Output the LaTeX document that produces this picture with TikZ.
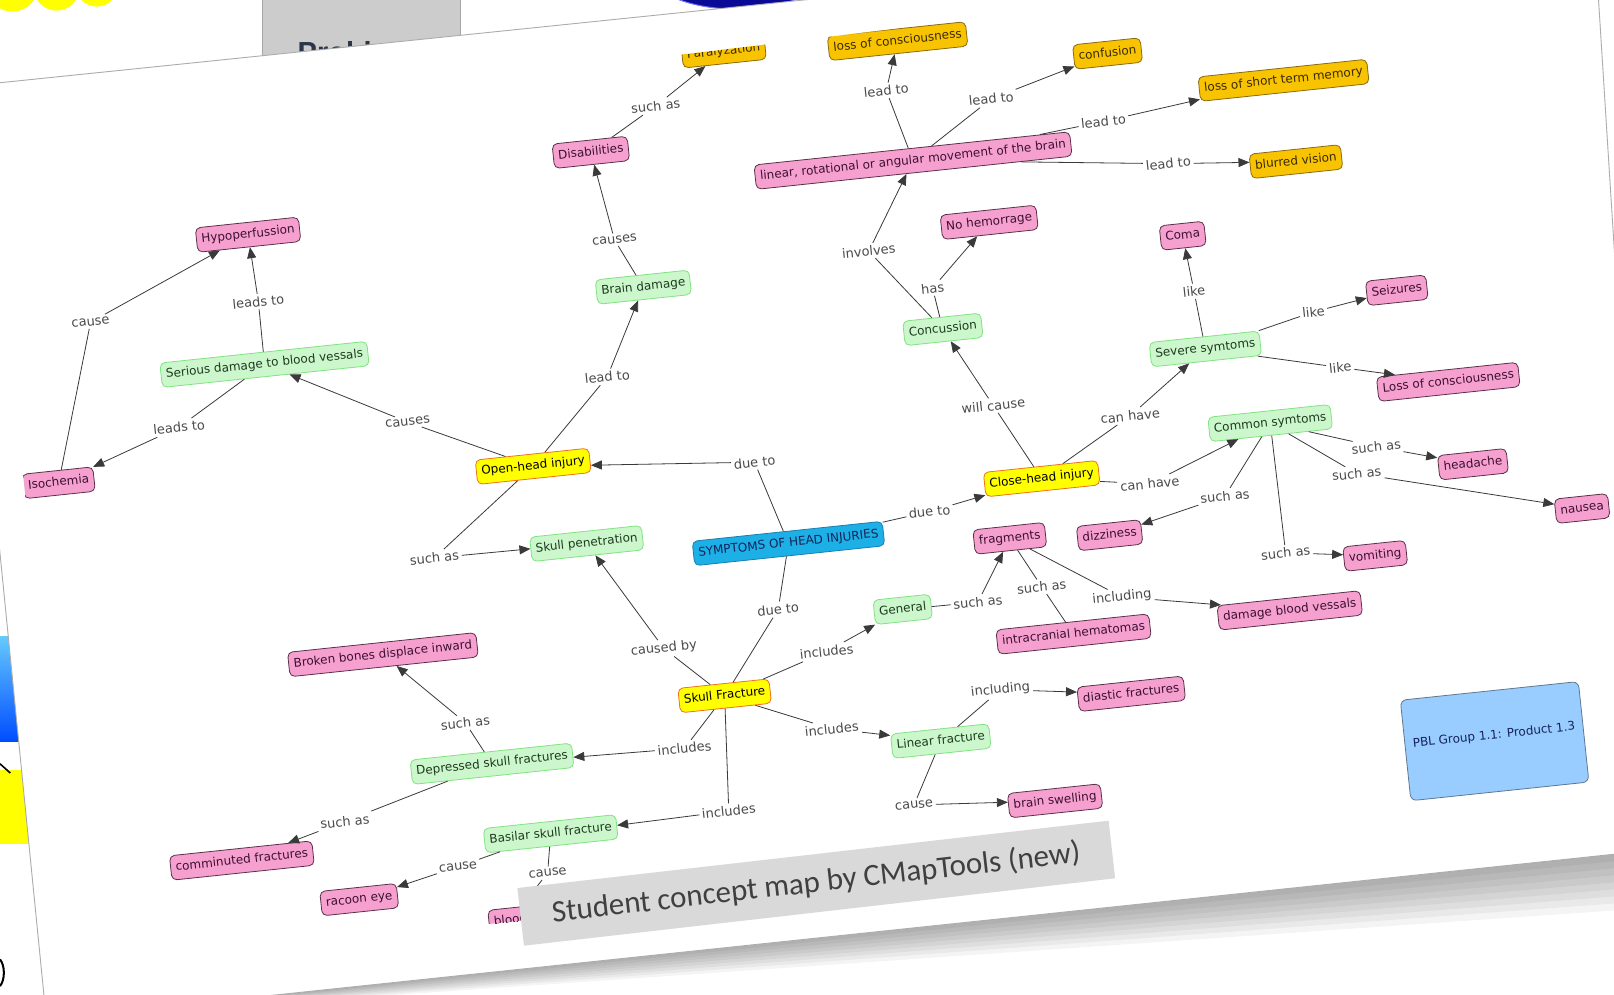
\documentclass[tikz,border=0pt]{standalone}
\usepackage{fontspec}
\setmainfont{DejaVu Sans}
\newfontfamily\capfont{Carlito}
\newfontfamily\tabfont{Liberation Sans}
\usetikzlibrary{arrows.meta}
\definecolor{pinkfill}{HTML}{F6A0D0}
\definecolor{pinkdraw}{HTML}{5A3048}
\definecolor{pinktext}{HTML}{3C1030}
\definecolor{greenfill}{HTML}{CCF6CC}
\definecolor{greendraw}{HTML}{80E480}
\definecolor{greentext}{HTML}{1E3A1E}
\definecolor{yellowfill}{HTML}{FFFF00}
\definecolor{yellowdraw}{HTML}{F07020}
\definecolor{goldfill}{HTML}{F8C300}
\definecolor{golddraw}{HTML}{8A6A10}
\definecolor{goldtext}{HTML}{3A2A00}
\definecolor{bluefill}{HTML}{1CB0E6}
\definecolor{bluedraw}{HTML}{1A7FB0}
\definecolor{bluetext}{HTML}{14245A}
\definecolor{pblfill}{HTML}{99CCFF}
\definecolor{pbldraw}{HTML}{5E7890}
\definecolor{labtext}{HTML}{4A4A4A}
\definecolor{linec}{HTML}{3A3A3A}
\definecolor{tabgray}{HTML}{CCCCCC}
\definecolor{tabtext}{HTML}{2B3648}
\definecolor{topblue}{HTML}{0A0A96}
\definecolor{capfill}{HTML}{D9D9D9}
\definecolor{captext}{HTML}{404040}
\tikzset{
 cbase/.style={rectangle, rounded corners=5pt, inner xsep=5pt, inner ysep=6pt, text height=9.5pt, text depth=3pt, rotate=6, font=\fontsize{12}{14}\selectfont, line width=0.8pt},
 pinkc/.style={cbase, fill=pinkfill, draw=pinkdraw, text=pinktext},
 greenc/.style={cbase, fill=greenfill, draw=greendraw, text=greentext},
 yellowc/.style={cbase, fill=yellowfill, draw=yellowdraw, text=black},
 goldc/.style={cbase, fill=goldfill, draw=golddraw, text=goldtext},
 bluec/.style={cbase, fill=bluefill, draw=bluedraw, text=bluetext},
 pblc/.style={rectangle, rounded corners=6pt, rotate=6, fill=pblfill, draw=pbldraw, line width=0.8pt, minimum width=179pt, minimum height=101pt, text=bluetext, font=\fontsize{12}{14}\selectfont},
 lab/.style={rotate=6, inner sep=2.5pt, text=labtext, font=\fontsize{13}{15}\selectfont},
 ln/.style={draw=linec, line width=0.8pt},
 ar/.style={ln, -{Triangle[length=11pt,width=9pt]}},
 capbox/.style={rectangle, rotate=6.5, fill=capfill, minimum width=595pt, minimum height=58pt, text=captext, font=\capfont\fontsize{31}{36}\selectfont}
}
\begin{document}
\begin{tikzpicture}[x=1.0293pt,y=-1.0293pt]
\useasboundingbox (0,0) rectangle (1568,966);
\fill[white] (0,0) rectangle (1568,966);
% background slide elements
\fill[yellowfill] (12,-14) circle[radius=26pt];
\fill[yellowfill] (55,-12) circle[radius=23pt];
\fill[yellowfill] (94,-14) circle[radius=21pt];
\fill[tabgray, draw=gray!70] (255,-5) rectangle (447,70);
\node[anchor=base west, inner sep=0pt, text=tabtext, font=\tabfont\bfseries\fontsize{29}{32}\selectfont] (tabtxt) at (289,61) {Problem};
\fill[topblue, draw=blue!55, line width=1pt] (716,-30) ellipse[x radius=90pt, y radius=40pt];
\shade[top color=blue!35!cyan!60, bottom color=blue!70!cyan] (-5,618) rectangle (25,720);
\fill[yellowfill] (-5,748) rectangle (30,820);
\draw[black, line width=1.6pt] (0,742) -- (10,751);
\draw[black, line width=2pt] (0,932) .. controls (5,938) and (5,952) .. (0,958);
% sheet shadow
\foreach \k in {1,...,8}{
  \fill[black, opacity=0.045] (45,990) -- (1605,826) -- (1605,826+7*\k) -- cycle;
}
\foreach \k in {1,...,4}{
  \fill[black, opacity=0.04] (-45,85) -- (45,990) -- (45+2*\k,990) -- (-45+3*\k,85) -- cycle;
}
% sheet
\fill[white, draw=gray!65, line width=0.9pt] (-45,85) -- (1548,-79) -- (1605,826) -- (45,990) -- cycle;
% concept map
\begin{scope}
\clip (-10,134) -- (1600,-60) -- (1600,780) -- (70,940) -- cycle;
\node[goldc] (par) at (703,50) {Paralyzation};
\node[goldc] (loc) at (872,40) {loss of consciousness};
\node[goldc] (conf) at (1076,52) {confusion};
\node[goldc] (stm) at (1247,78) {loss of short term memory};
\node[goldc] (blur) at (1259,157) {blurred vision};
\node[pinkc] (lin) at (887,156) {linear, rotational or angular movement of the brain};
\node[pinkc] (dis) at (574,148) {Disabilities};
\node[pinkc] (hyp) at (241,228) {Hypoperfussion};
\node[greenc] (bd) at (625,279) {Brain damage};
\node[pinkc] (noh) at (961,216) {No hemorrage};
\node[pinkc] (coma) at (1149,229) {Coma};
\node[pinkc] (seiz) at (1357,282) {Seizures};
\node[greenc] (conc) at (916,320) {Concussion};
\node[greenc] (sev) at (1171,339) {Severe symtoms};
\node[pinkc] (Loc) at (1407,371) {Loss of consciousness};
\node[greenc] (sdb) at (257,354) {Serious damage to blood vessals};
\node[pinkc] (iso) at (57,469) {Isochemia};
\node[yellowc] (ohi) at (518,453) {Open-head injury};
\node[greenc] (com) at (1234,411) {Common symtoms};
\node[pinkc] (head) at (1431,451) {headache};
\node[pinkc] (naus) at (1537,494) {nausea};
\node[yellowc] (chi) at (1012,465) {Close-head injury};
\node[bluec] (main) at (766,528) {SYMPTOMS OF HEAD INJURIES};
\node[greenc] (skp) at (570,528) {Skull penetration};
\node[pinkc] (frag) at (981,523) {fragments};
\node[pinkc] (dizz) at (1078,520) {dizziness};
\node[pinkc] (vom) at (1336,540) {vomiting};
\node[greenc] (gen) at (877,592) {General};
\node[pinkc] (ich) at (1043,616) {intracranial hematomas};
\node[pinkc] (dbv) at (1253,593) {damage blood vessals};
\node[pinkc] (bbd) at (372,636) {Broken bones displace inward};
\node[yellowc] (skf) at (704,676) {Skull Fracture};
\node[pinkc] (dia) at (1099,674) {diastic fractures};
\node[greenc] (lfr) at (914,720) {Linear fracture};
\node[greenc] (dsf) at (478,742) {Depressed skull fractures};
\node[pinkc] (bsw) at (1025,778) {brain swelling};
\node[greenc] (bas) at (535,810) {Basilar skull fracture};
\node[pinkc] (cfr) at (235,836) {comminuted fractures};
\node[pinkc] (rac) at (349,874) {racoon eye};
\node[pinkc] (blo) at (496,894) {blood};
\node[pblc] (pbl) at (1452,720) {\raisebox{14pt}{PBL Group 1.1: Product 1.3}};
% link labels
\node[lab] (l1) at (637,103) {such as};
\node[lab] (l2) at (597,233) {causes};
\node[lab] (l3) at (590,366) {lead to};
\node[lab] (l4) at (88,313) {cause};
\node[lab] (l5) at (251,293) {leads to};
\node[lab] (l6) at (174,415) {leads to};
\node[lab] (l7) at (396,410) {causes};
\node[lab] (l8) at (422,542) {such as};
\node[lab] (l9) at (733,449) {due to};
\node[lab] (l10) at (903,497) {due to};
\node[lab] (l11) at (756,592) {due to};
\node[lab] (l12) at (645,630) {caused by};
\node[lab] (l13) at (803,633) {includes};
\node[lab] (l14) at (950,585) {such as};
\node[lab] (l15) at (1012,570) {such as};
\node[lab] (l16) at (1090,580) {including};
\node[lab] (l17) at (1098,404) {can have};
\node[lab] (l18) at (1117,470) {can have};
\node[lab] (l19) at (965,394) {will cause};
\node[lab] (l20) at (844,244) {involves};
\node[lab] (l21) at (906,280) {has};
\node[lab] (l22) at (861,88) {lead to};
\node[lab] (l23) at (963,96) {lead to};
\node[lab] (l24) at (1072,118) {lead to};
\node[lab] (l25) at (1135,159) {lead to};
\node[lab] (l26) at (1160,283) {like};
\node[lab] (l27) at (1276,303) {like};
\node[lab] (l28) at (1302,357) {like};
\node[lab] (l29) at (1337,434) {such as};
\node[lab] (l30) at (1318,460) {such as};
\node[lab] (l31) at (1190,482) {such as};
\node[lab] (l32) at (1249,537) {such as};
\node[lab] (l33) at (665,727) {includes};
\node[lab] (l34) at (708,788) {includes};
\node[lab] (l35) at (808,708) {includes};
\node[lab] (l36) at (972,670) {including};
\node[lab] (l37) at (888,782) {cause};
\node[lab] (l38) at (452,702) {such as};
\node[lab] (l39) at (335,798) {such as};
\node[lab] (l40) at (445,842) {cause};
\node[lab] (l41) at (532,848) {cause};
% connectors
\draw[ln] (dis) -- (l1); \draw[ar] (l1) -- (par);
\draw[ln] (bd) -- (l2); \draw[ar] (l2) -- (dis);
\draw[ln] (ohi) -- (l3); \draw[ar] (l3) -- (bd);
\draw[ln] (iso) -- (l4); \draw[ar] (l4) -- (hyp);
\draw[ln] (sdb) -- (l5); \draw[ar] (l5) -- (hyp);
\draw[ln] (sdb) -- (l6); \draw[ar] (l6) -- (iso);
\draw[ln] (ohi) -- (l7); \draw[ar] (l7) -- (sdb);
\draw[ln] (ohi) -- (l8); \draw[ar] (l8) -- (skp);
\draw[ln] (main) -- (l9); \draw[ar] (l9) -- (ohi);
\draw[ln] (main) -- (l10); \draw[ar] (l10) -- (chi);
\draw[ln] (skf) -- (l11); \draw[ln] (l11) -- (main);
\draw[ln] (skf) -- (l12); \draw[ar] (l12) -- (skp);
\draw[ln] (skf) -- (l13); \draw[ar] (l13) -- (gen);
\draw[ln] (gen) -- (l14); \draw[ar] (l14) -- (frag);
\draw[ln] (frag) -- (l15); \draw[ln] (l15) -- (ich);
\draw[ln] (frag) -- (l16); \draw[ar] (l16) -- (dbv);
\draw[ln] (chi) -- (l17); \draw[ar] (l17) -- (sev);
\draw[ln] (chi) -- (l18); \draw[ar] (l18) -- (com);
\draw[ln] (chi) -- (l19); \draw[ar] (l19) -- (conc);
\draw[ln] (conc) -- (l20); \draw[ar] (l20) -- (lin);
\draw[ln] (conc) -- (l21); \draw[ar] (l21) -- (noh);
\draw[ln] (lin) -- (l22); \draw[ar] (l22) -- (loc);
\draw[ln] (lin) -- (l23); \draw[ar] (l23) -- (conf);
\draw[ln] (lin) -- (l24); \draw[ar] (l24) -- (stm);
\draw[ln] (lin) -- (l25); \draw[ar] (l25) -- (blur);
\draw[ln] (sev) -- (l26); \draw[ar] (l26) -- (coma);
\draw[ln] (sev) -- (l27); \draw[ar] (l27) -- (seiz);
\draw[ln] (sev) -- (l28); \draw[ar] (l28) -- (Loc);
\draw[ln] (com) -- (l29); \draw[ar] (l29) -- (head);
\draw[ln] (com) -- (l30); \draw[ar] (l30) -- (naus);
\draw[ln] (com) -- (l31); \draw[ar] (l31) -- (dizz);
\draw[ln] (com) -- (l32); \draw[ar] (l32) -- (vom);
\draw[ln] (skf) -- (l33); \draw[ar] (l33) -- (dsf);
\draw[ln] (skf) -- (l34); \draw[ar] (l34) -- (bas);
\draw[ln] (skf) -- (l35); \draw[ar] (l35) -- (lfr);
\draw[ln] (lfr) -- (l36); \draw[ar] (l36) -- (dia);
\draw[ln] (lfr) -- (l37); \draw[ar] (l37) -- (bsw);
\draw[ln] (dsf) -- (l38); \draw[ar] (l38) -- (bbd);
\draw[ln] (dsf) -- (l39); \draw[ar] (l39) -- (cfr);
\draw[ln] (bas) -- (l40); \draw[ar] (l40) -- (rac);
\draw[ln] (bas) -- (l41); \draw[ar] (l41) -- (blo);
\end{scope}
% caption
\node[capbox] (cap) at (793,858) {Student concept map by CMapTools (new)};
\end{tikzpicture}
\end{document}
